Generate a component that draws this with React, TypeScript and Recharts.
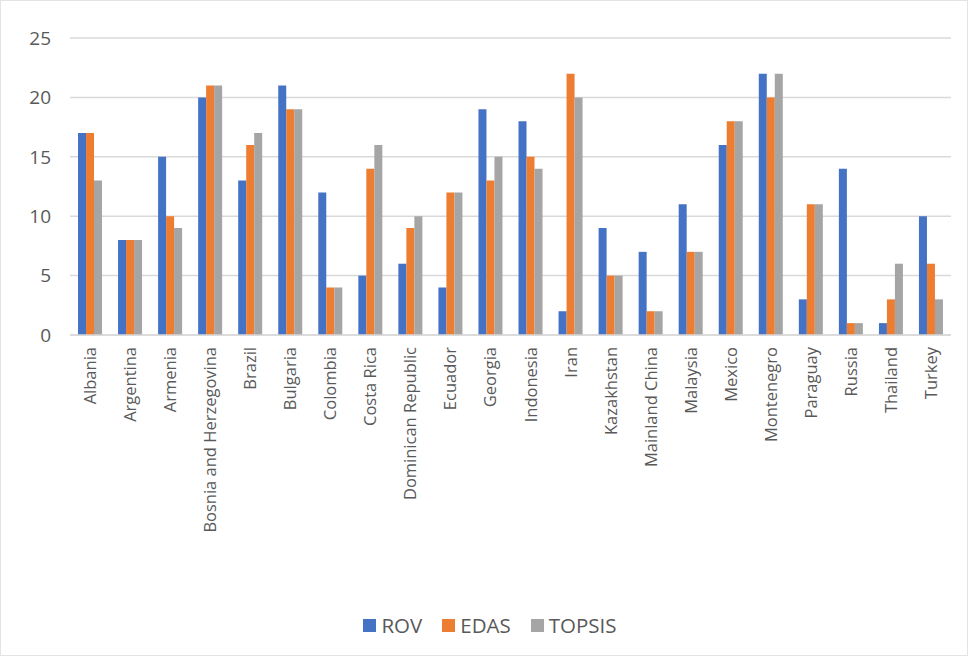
import React from "react";
import {
  BarChart,
  Bar,
  XAxis,
  YAxis,
  CartesianGrid,
  Legend,
} from "recharts";

// Countries on the category axis
const countries = [
  "Albania",
  "Argentina",
  "Armenia",
  "Bosnia and Herzegovina",
  "Brazil",
  "Bulgaria",
  "Colombia",
  "Costa Rica",
  "Dominican Republic",
  "Ecuador",
  "Georgia",
  "Indonesia",
  "Iran",
  "Kazakhstan",
  "Mainland China",
  "Malaysia",
  "Mexico",
  "Montenegro",
  "Paraguay",
  "Russia",
  "Thailand",
  "Turkey",
];

// Rankings per method
const rov = [17, 8, 15, 20, 13, 21, 12, 5, 6, 4, 19, 18, 2, 9, 7, 11, 16, 22, 3, 14, 1, 10];
const edas = [17, 8, 10, 21, 16, 19, 4, 14, 9, 12, 13, 15, 22, 5, 2, 7, 18, 20, 11, 1, 3, 6];
const topsis = [13, 8, 9, 21, 17, 19, 4, 16, 10, 12, 15, 14, 20, 5, 2, 7, 18, 22, 11, 1, 6, 3];

const yTicks = [0, 5, 10, 15, 20, 25];

const seriesList = [
  { key: "ROV", color: "#4472C4" },
  { key: "EDAS", color: "#ED7D31" },
  { key: "TOPSIS", color: "#A5A5A5" },
];

const data = countries.map((name, i) => ({
  name,
  ROV: rov[i],
  EDAS: edas[i],
  TOPSIS: topsis[i],
}));

const FONT = "'Open Sans', 'Noto Sans', sans-serif";

// Vertical category labels, reading bottom-to-top
const CountryTick = (props: any) => {
  const { x, y, payload } = props;
  return (
    <text
      x={0}
      y={0}
      transform={`translate(${x + 6},${y + 4}) rotate(-90)`}
      textAnchor="end"
      fill="#595959"
      fontSize={16.5}
      fontFamily={FONT}
    >
      {payload.value}
    </text>
  );
};

// Legend kept in series order
const SeriesLegend = () => (
  <div
    style={{
      display: "flex",
      justifyContent: "center",
      gap: 20,
      fontFamily: FONT,
      fontSize: 20.5,
      color: "#595959",
      lineHeight: "24px",
      paddingLeft: 28,
    }}
  >
    {seriesList.map((s) => (
      <span key={s.key} style={{ display: "flex", alignItems: "center" }}>
        <span
          style={{
            width: 13,
            height: 13,
            background: s.color,
            display: "inline-block",
            marginRight: 5,
          }}
        />
        {s.key}
      </span>
    ))}
  </div>
);

const App: React.FC = () => {
  return (
    <div
      style={{
        position: "absolute",
        left: 0,
        top: 0,
        width: 968,
        height: 656,
        background: "#fff",
        boxSizing: "border-box",
        border: "1px solid #e3e3e3",
      }}
    >
      <BarChart
        width={966}
        height={654}
        data={data}
        margin={{ top: 37, right: 16, left: 0, bottom: 18 }}
        barCategoryGap="20%"
        barGap={0}
      >
        <CartesianGrid vertical={false} stroke="#d9d9d9" strokeWidth={1.5} />
        <XAxis
          dataKey="name"
          interval={0}
          height={278}
          tick={<CountryTick />}
          tickLine={false}
          axisLine={{ stroke: "#d9d9d9", strokeWidth: 1.5 }}
        />
        <YAxis
          width={69}
          domain={[0, 25]}
          ticks={yTicks}
          tickLine={false}
          axisLine={false}
          tick={{ fill: "#595959", fontSize: 19, fontFamily: FONT }}
          tickMargin={13}
        />
        <Legend verticalAlign="bottom" content={<SeriesLegend />} />
        {seriesList.map((s) => (
          <Bar key={s.key} dataKey={s.key} fill={s.color} isAnimationActive={false} />
        ))}
      </BarChart>
    </div>
  );
};

export default App;
